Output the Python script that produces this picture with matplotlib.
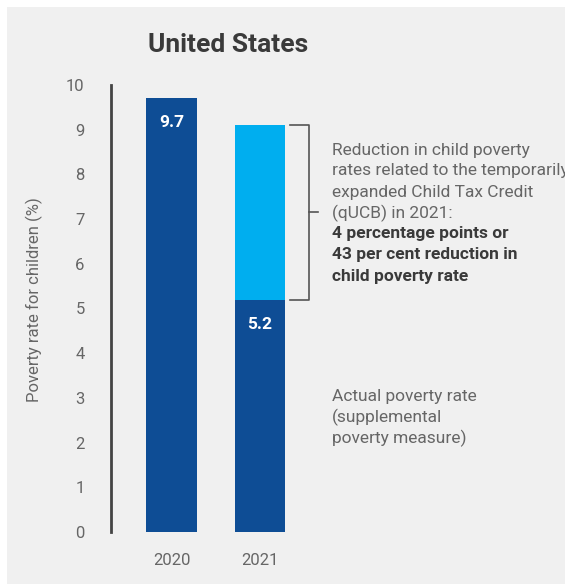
from matplotlib.patches import Rectangle
import matplotlib

matplotlib.use("Agg")

import matplotlib.pyplot as plt  # noqa: E402


YEARS = ["2020", "2021"]
ACTUAL_RATE = [9.7, 5.2]
REDUCTION = [0.0, 3.9]
Y_TICKS = list(range(0, 11))

REDUCTION_LINES = [
    ("Reduction in child poverty", "normal"),
    ("rates related to the temporarily", "normal"),
    ("expanded Child Tax Credit", "normal"),
    ("(qUCB) in 2021:", "normal"),
    ("4 percentage points or", "bold"),
    ("43 per cent reduction in", "bold"),
    ("child poverty rate", "bold"),
]
ACTUAL_LINES = [
    "Actual poverty rate",
    "(supplemental",
    "poverty measure)",
]

DARK_BLUE = "#0e4d95"
LIGHT_BLUE = "#00aeef"
PANEL = "#f0f0f0"
TEXT = "#666666"
DARK_TEXT = "#3a3a3a"

W, H = 565, 584
plt.rcParams["font.family"] = ["Roboto", "DejaVu Sans"]


def fx(px):
    return px / W


def fy(py):
    return 1 - py / H


fig = plt.figure(figsize=(W / 100, H / 100), dpi=100, facecolor="white")
fig.patches.append(Rectangle((fx(7), 0), 1, fy(7), transform=fig.transFigure,
                             facecolor=PANEL, edgecolor="none", zorder=-10))

# axes: left spine at x=111px, y=0 at 532px, y=10 at 85px
ax_left, ax_right = 111, 559
ax = fig.add_axes([fx(ax_left), fy(532), fx(ax_right - ax_left), (532 - 85) / H])
ax.set_facecolor("none")

x = list(range(len(YEARS)))
width = 0.57
ax.bar(x, ACTUAL_RATE, width=width, color=DARK_BLUE, zorder=2)
ax.bar(x, REDUCTION, bottom=ACTUAL_RATE, width=width, color=LIGHT_BLUE, zorder=2)

for xi, val in zip(x, ACTUAL_RATE):
    ax.text(xi, val - 0.55, f"{val:.1f}", ha="center", va="center",
            color="white", fontsize=12.5, fontweight="bold")

ax.set_xlim(-0.6875, 4.4)
ax.set_ylim(0, 10)
ax.set_yticks(Y_TICKS)
ax.set_xticks(x)
ax.set_xticklabels(YEARS)
ax.tick_params(axis="both", length=0, labelsize=12, labelcolor=TEXT)
ax.tick_params(axis="y", pad=19)
ax.tick_params(axis="x", pad=15)
for side in ["top", "right", "bottom"]:
    ax.spines[side].set_visible(False)
ax.spines["left"].set_color("#444444")
ax.spines["left"].set_linewidth(2)

ax.set_ylabel("Poverty rate for children (%)", fontsize=12, color=TEXT,
              labelpad=0)
ax.yaxis.set_label_coords((43 - ax_left) / (ax_right - ax_left), 0.52)

# bracket around the reduction segment of 2021
top = ACTUAL_RATE[1] + REDUCTION[1]
bottom = ACTUAL_RATE[1]
bx = (309 - 171.5) / 88
bl = (290 - 171.5) / 88
bm = (318 - 171.5) / 88
ax.plot([bl, bx, bx, bl], [top, top, bottom, bottom], color="#555555",
        lw=1.2, clip_on=False, zorder=3)
ax.plot([bx, bm], [(top + bottom) / 2] * 2, color="#555555", lw=1.2,
        clip_on=False, zorder=3)

fig.text(fx(148), fy(45), "United States", fontsize=19, fontweight="bold",
         color=DARK_TEXT, va="center", ha="left")

for i, (line, weight) in enumerate(REDUCTION_LINES):
    fig.text(fx(332), fy(150 + 21 * i), line, fontsize=12.5, fontweight=weight,
             color=DARK_TEXT if weight == "bold" else TEXT, va="center", ha="left")

for i, line in enumerate(ACTUAL_LINES):
    fig.text(fx(332), fy(396 + 21 * i), line, fontsize=12.5,
             color=TEXT, va="center", ha="left")

fig.savefig("out.png", dpi=100, facecolor=fig.get_facecolor())
